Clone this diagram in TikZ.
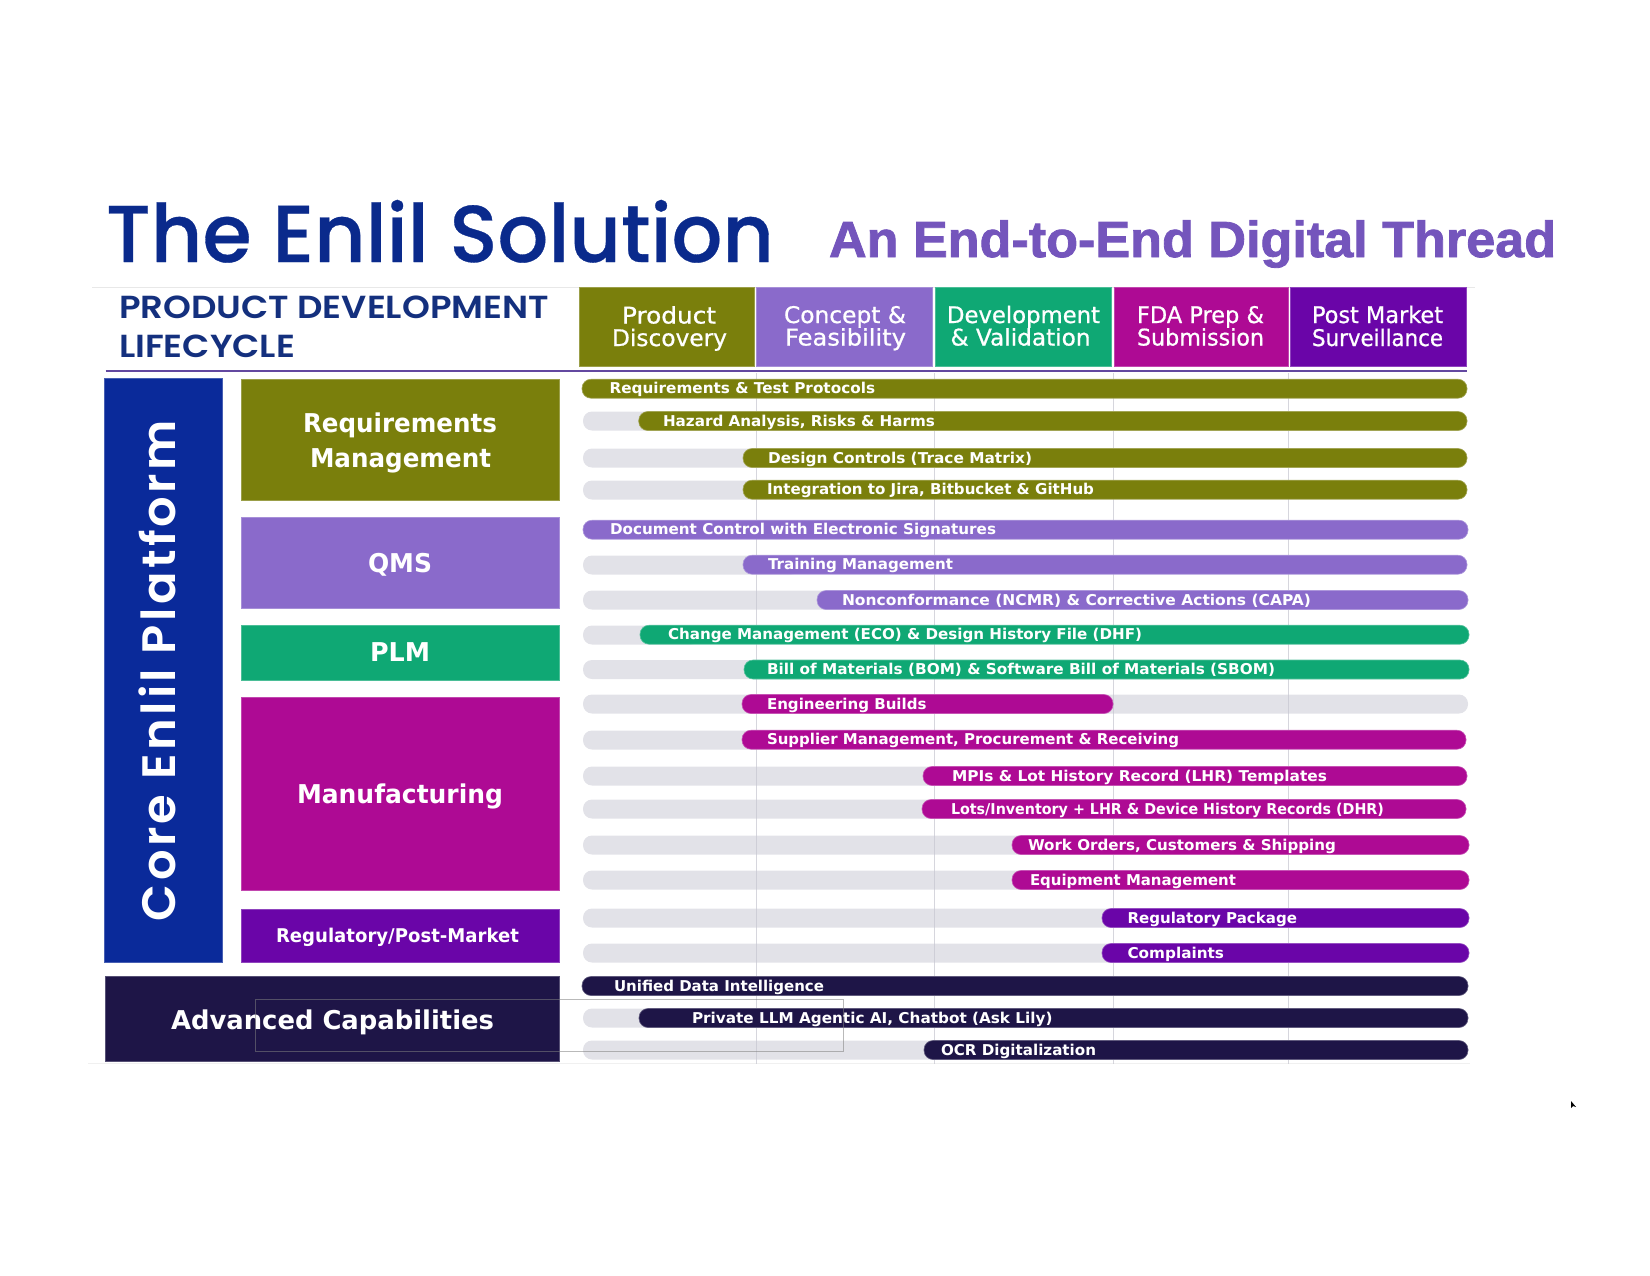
\documentclass[tikz,border=0pt]{standalone}
\usepackage{graphicx}
\usepackage{fontspec}
\setmainfont{Liberation Sans}
\newfontfamily\popf[UprightFont=* Medium,BoldFont=* SemiBold]{Poppins}
\newfontfamily\popt[UprightFont=* Medium,FakeBold=0.4]{Poppins}
\newfontfamily\popw[UprightFont=* SemiBold,LetterSpace=7]{Poppins}
\newfontfamily\subf[UprightFont=* Bold,FakeBold=1.6]{Liberation Sans}
\newfontfamily\medf[UprightFont=* Bold]{DejaVu Sans}
\newfontfamily\lightf[FakeBold=0.8]{DejaVu Sans}
\definecolor{olive}{HTML}{7A7F0C}
\definecolor{lav}{HTML}{8A6ACB}
\definecolor{grn}{HTML}{0FA874}
\definecolor{mag}{HTML}{AE0A94}
\definecolor{vio}{HTML}{6A05A8}
\definecolor{ink}{HTML}{1E1547}
\definecolor{navy}{HTML}{0A2A9A}
\definecolor{titlenavy}{HTML}{0A2A8C}
\definecolor{headnavy}{HTML}{14307E}
\definecolor{subpurple}{HTML}{7455BC}
\definecolor{trackgray}{HTML}{E2E2E8}
\definecolor{gridgray}{HTML}{C8C8D2}
\tikzset{
  block/.style={anchor=north west,inner sep=0,outer sep=0},
  pillbar/.style={anchor=west,inner sep=0,outer sep=0,rounded corners=9bp,minimum height=19bp},
  trackbar/.style={pillbar,fill=trackgray},
  tag/.style={anchor=base west,inner sep=0,outer sep=0,text=white},
  gridline/.style={gridgray,line width=0.9bp,opacity=0.75},
}
% name, x0, y0, x1, y1, colour
\newcommand{\pblock}[6]{\node[block,fill=#6,draw=#6!75!white,line width=0.5bp,minimum width=#4bp-#2bp,minimum height=#5bp-#3bp] (#1) at (#2,#3) {};}
% name, x, baseline, width, font size, font, text
\newcommand{\ptag}[7]{\node[tag] (#1) at (#2,#3) {\resizebox{#4bp}{\height}{\fontsize{#5}{#5}#6\selectfont #7}};}
% name, y, x start, x end, colour, text x, text width, text
\newcommand{\prow}[8]{%
  \node[pillbar,fill=#5,draw=#5!70!white,line width=0.6bp,minimum width=#4bp-#3bp] (#1) at (#3,#2) {};
  \node[tag,text=white] (#1t) at (#6,#2+5) {\resizebox{#7bp}{\height}{\fontsize{15}{15}\medf\selectfont #8}};}
% name, y, x start, x end
\newcommand{\ptrack}[4]{\node[trackbar,minimum width=#4bp-#3bp] (#1) at (#3,#2) {};}
\begin{document}
\begin{tikzpicture}[x=1bp,y=-1bp]
\useasboundingbox (0,0) rectangle (1650,1275);
% title
\node[tag,text=titlenavy] (title) at (106,262) {\resizebox{668bp}{\height}{\fontsize{81}{81}\popt\selectfont The Enlil Solution}};
\node[tag,text=subpurple] (subtitle) at (829,257) {\resizebox{727bp}{\height}{\fontsize{51}{51}\subf\selectfont An End-to-End Digital Thread}};
% rules
\coordinate (ra) at (92,287); \coordinate (rb) at (1475,287);
\draw[gray!18,line width=0.8bp] (ra) -- (rb);
\coordinate (ba) at (88,1063); \coordinate (bb) at (1470,1063);
\draw[gray!12,line width=0.8bp] (ba) -- (bb);
\node[tag,text=headnavy] (h1) at (119,318) {\resizebox{430bp}{\height}{\fontsize{32}{32}\popf\bfseries\selectfont PRODUCT DEVELOPMENT}};
\node[tag,text=headnavy] (h2) at (119,357) {\resizebox{176bp}{\height}{\fontsize{32}{32}\popf\bfseries\selectfont LIFECYCLE}};
% phases
\pblock{p1}{579}{287}{754.5}{366}{olive}
\pblock{p2}{756.5}{287}{932.5}{366}{lav}
\pblock{p3}{935}{287}{1111}{366}{grn}
\pblock{p4}{1114}{287}{1288}{366}{mag}
\pblock{p5}{1290}{287}{1466}{366}{vio}
\ptag{p1a}{622}{323.5}{94}{23}{\lightf}{Product}
\ptag{p1b}{612}{346}{115}{23}{\lightf}{Discovery}
\ptag{p2a}{784}{323}{122}{23}{\lightf}{Concept \&}
\ptag{p2b}{785}{345.5}{121}{23}{\lightf}{Feasibility}
\ptag{p3a}{947}{323}{153}{23}{\lightf}{Development}
\ptag{p3b}{950.5}{345.5}{140}{23}{\lightf}{\& Validation}
\ptag{p4a}{1137}{323}{127}{23}{\lightf}{FDA Prep \&}
\ptag{p4b}{1137}{345.5}{127}{23}{\lightf}{Submission}
\ptag{p5a}{1312}{323}{131}{23}{\lightf}{Post Market}
\ptag{p5b}{1312}{346}{131}{23}{\lightf}{Surveillance}
\coordinate (la) at (105.5,371); \coordinate (lb) at (1467,371);
\draw[subpurple!85!black,line width=2bp] (la) -- (lb);
% left column
\pblock{core}{104.5}{378}{222}{962}{navy}
\node[tag,rotate=90,anchor=base west] (coret) at (175,921) {\resizebox{501bp}{\height}{\fontsize{47}{47}\popw\selectfont Core Enlil Platform}};
\pblock{b1}{241}{379}{559.6}{500.7}{olive}
\pblock{b2}{241}{517}{559.6}{608}{lav}
\pblock{b3}{241}{625}{559.6}{680}{grn}
\pblock{b4}{241}{697}{559.6}{890}{mag}
\pblock{b5}{241}{909}{559.6}{962}{vio}
\pblock{b6}{105}{976}{559.6}{1061}{ink}
\ptag{b1a}{303}{432}{194}{26}{\medf}{Requirements}
\ptag{b1b}{310}{467}{181}{26}{\medf}{Management}
\ptag{b2a}{368}{572}{64}{26}{\medf}{QMS}
\ptag{b3a}{370}{661}{60}{26}{\medf}{PLM}
\ptag{b4a}{297}{803}{206}{26}{\medf}{Manufacturing}
\ptag{b5a}{276}{942}{243}{19}{\medf}{Regulatory/Post-Market}
\ptag{b6a}{171}{1029}{323}{26}{\medf}{Advanced Capabilities}
% tracks
\ptrack{t2}{421}{583}{700}
\ptrack{t3}{458}{583}{800}
\ptrack{t4}{490}{583}{800}
\ptrack{t6}{565}{583}{800}
\ptrack{t7}{600}{583}{860}
\ptrack{t8}{635}{583}{700}
\ptrack{t9}{669.5}{583}{800}
\ptrack{t10}{704}{583}{1468}
\ptrack{t11}{740}{583}{800}
\ptrack{t12}{776}{583}{960}
\ptrack{t13}{809}{583}{960}
\ptrack{t14}{845}{583}{1050}
\ptrack{t15}{880}{583}{1050}
\ptrack{t16}{918}{583}{1150}
\ptrack{t17}{953}{583}{1150}
\ptrack{t19}{1018}{583}{700}
\ptrack{t20}{1050}{583}{960}
% grid
\foreach \n/\gx in {g1/756,g2/934,g3/1113,g4/1288}{
  \coordinate (\n a) at (\gx,373); \coordinate (\n b) at (\gx,1064);
  \draw[gridline] (\n a) -- (\n b);
}
% bars
\prow{r1}{388.7}{582}{1467}{olive}{609.6}{265.5}{Requirements \& Test Protocols}
\prow{r2}{421}{638.7}{1467}{olive}{663}{272}{Hazard Analysis, Risks \& Harms}
\prow{r3}{458}{743}{1467}{olive}{768}{264}{Design Controls (Trace Matrix)}
\prow{r4}{489.7}{743}{1467}{olive}{767}{327}{Integration to Jira, Bitbucket \& GitHub}
\prow{r5}{529.7}{583}{1468}{lav}{610}{386}{Document Control with Electronic Signatures}
\prow{r6}{564.7}{743}{1467}{lav}{768}{185}{Training Management}
\prow{r7}{600}{817}{1468}{lav}{842}{469}{Nonconformance (NCMR) \& Corrective Actions (CAPA)}
\prow{r8}{634.7}{640}{1469}{grn}{668}{474}{Change Management (ECO) \& Design History File (DHF)}
\prow{r9}{669.5}{744}{1469}{grn}{767}{508}{Bill of Materials (BOM) \& Software Bill of Materials (SBOM)}
\prow{r10}{704}{742}{1113}{mag}{767}{159.5}{Engineering Builds}
\prow{r11}{739.7}{742}{1466}{mag}{767}{412}{Supplier Management, Procurement \& Receiving}
\prow{r12}{776}{923}{1467}{mag}{952}{375}{MPIs \& Lot History Record (LHR) Templates}
\prow{r13}{809}{922}{1466}{mag}{951}{433}{Lots/Inventory + LHR \& Device History Records (DHR)}
\prow{r14}{845}{1012}{1469}{mag}{1028}{308}{Work Orders, Customers \& Shipping}
\prow{r15}{880}{1012}{1469}{mag}{1030}{206}{Equipment Management}
\prow{r16}{918}{1102}{1469}{vio}{1127.5}{169.5}{Regulatory Package}
\prow{r17}{953}{1102}{1469}{vio}{1127.5}{96.5}{Complaints}
\prow{r18}{986}{582}{1468}{ink}{614}{210}{Unified Data Intelligence}
\prow{r19}{1018}{639}{1468}{ink}{692}{360.5}{Private LLM Agentic AI, Chatbot (Ask Lily)}
\prow{r20}{1050}{924}{1468}{ink}{941}{155}{OCR Digitalization}
% thin outline
\coordinate (oa) at (255,999); \coordinate (ob) at (843,1051);
\draw[gray,opacity=0.55,line width=0.7bp] (oa) rectangle (ob);
% cursor
\coordinate (c1) at (1571,1101); \coordinate (c2) at (1571,1108); \coordinate (c3) at (1573,1106); \coordinate (c4) at (1576,1107);
\fill[black] (c1) -- (c2) -- (c3) -- (c4) -- cycle;
\end{tikzpicture}
\end{document}
